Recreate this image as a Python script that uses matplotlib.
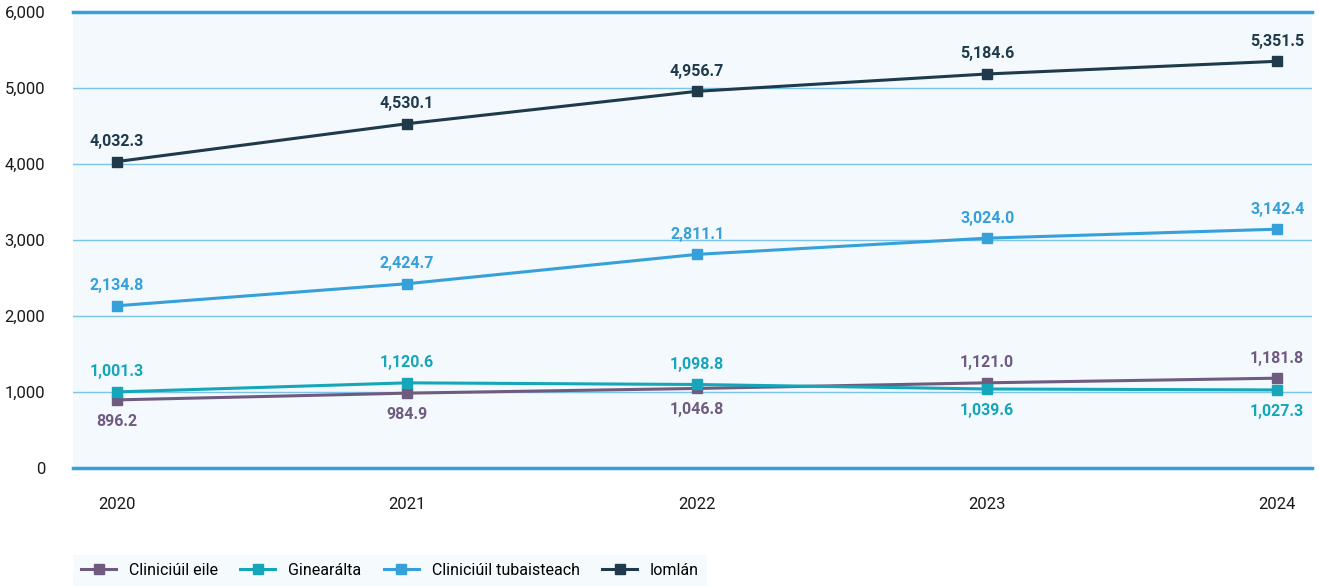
import numpy as np
import matplotlib.pyplot as plt

plt.rcParams['font.family'] = ['Roboto', 'DejaVu Sans']

years = [2020, 2021, 2022, 2023, 2024]
eile = [896.2, 984.9, 1046.8, 1121.0, 1181.8]
ginearalta = [1001.3, 1120.6, 1098.8, 1039.6, 1027.3]
tubaisteach = [2134.8, 2424.7, 2811.1, 3024.0, 3142.4]
iomlan = [4032.3, 4530.1, 4956.7, 5184.6, 5351.5]

# label position per point: 1 = above, -1 = below
pos_eile = [-1, -1, -1, 1, 1]
pos_gin = [1, 1, 1, -1, -1]
pos_tub = [1, 1, 1, 1, 1]
pos_iom = [1, 1, 1, 1, 1]

series = [
    ("Cliniciúil eile", eile, "#6f5b80", pos_eile),
    ("Ginearálta", ginearalta, "#16a6ba", pos_gin),
    ("Cliniciúil tubaisteach", tubaisteach, "#36a0da", pos_tub),
    ("Iomlán", iomlan, "#1f3a4b", pos_iom),
]

fig = plt.figure(figsize=(13.19, 5.86), dpi=100)
ax = fig.add_axes([73/1319, 1-468/586, (1312-73)/1319, (468-12)/586])
ax.set_facecolor("#f3f9fc")

x = np.arange(len(years))
for name, vals, col, pos in series:
    ax.plot(x, vals, "-", color=col, lw=2.2, marker="s", ms=7, label=name, zorder=3)
    for xi, v, p in zip(x, vals, pos):
        ax.annotate(f"{v:,.1f}", (xi, v), xytext=(0, 9 if p > 0 else -10),
                    textcoords="offset points", ha="center",
                    va="bottom" if p > 0 else "top",
                    color=col, fontsize=11.5, fontweight="bold")

ax.set_xlim(-0.152, 4.12)
ax.set_ylim(0, 6000)
ax.set_yticks(range(0, 6001, 1000))
ax.set_yticklabels([f"{v:,}" for v in range(0, 6001, 1000)])
ax.set_xticks(x)
ax.set_xticklabels([str(y) for y in years])
ax.grid(axis="y", color="#7cc3ea", lw=1)
ax.set_axisbelow(True)
for s in ax.spines.values():
    s.set_visible(False)
ax.axhline(0, color="#36a0da", lw=2.5, zorder=2, clip_on=False)
ax.axhline(6000, color="#36a0da", lw=2.5, zorder=2, clip_on=False)
ax.tick_params(length=0, labelsize=12, colors="#1a1a1a")
ax.tick_params(axis="y", pad=20)
ax.tick_params(axis="x", pad=21)

leg = ax.legend(loc="upper left", bbox_to_anchor=(0, -0.19), ncol=4, frameon=True,
                fontsize=11.5, handlelength=2.2, columnspacing=1.4, borderpad=0.5,
                borderaxespad=0)
leg.get_frame().set_facecolor("#f3f9fc")
leg.get_frame().set_edgecolor("none")
leg.get_frame().set_boxstyle("square", pad=0)

fig.savefig("out.png", dpi=100)
